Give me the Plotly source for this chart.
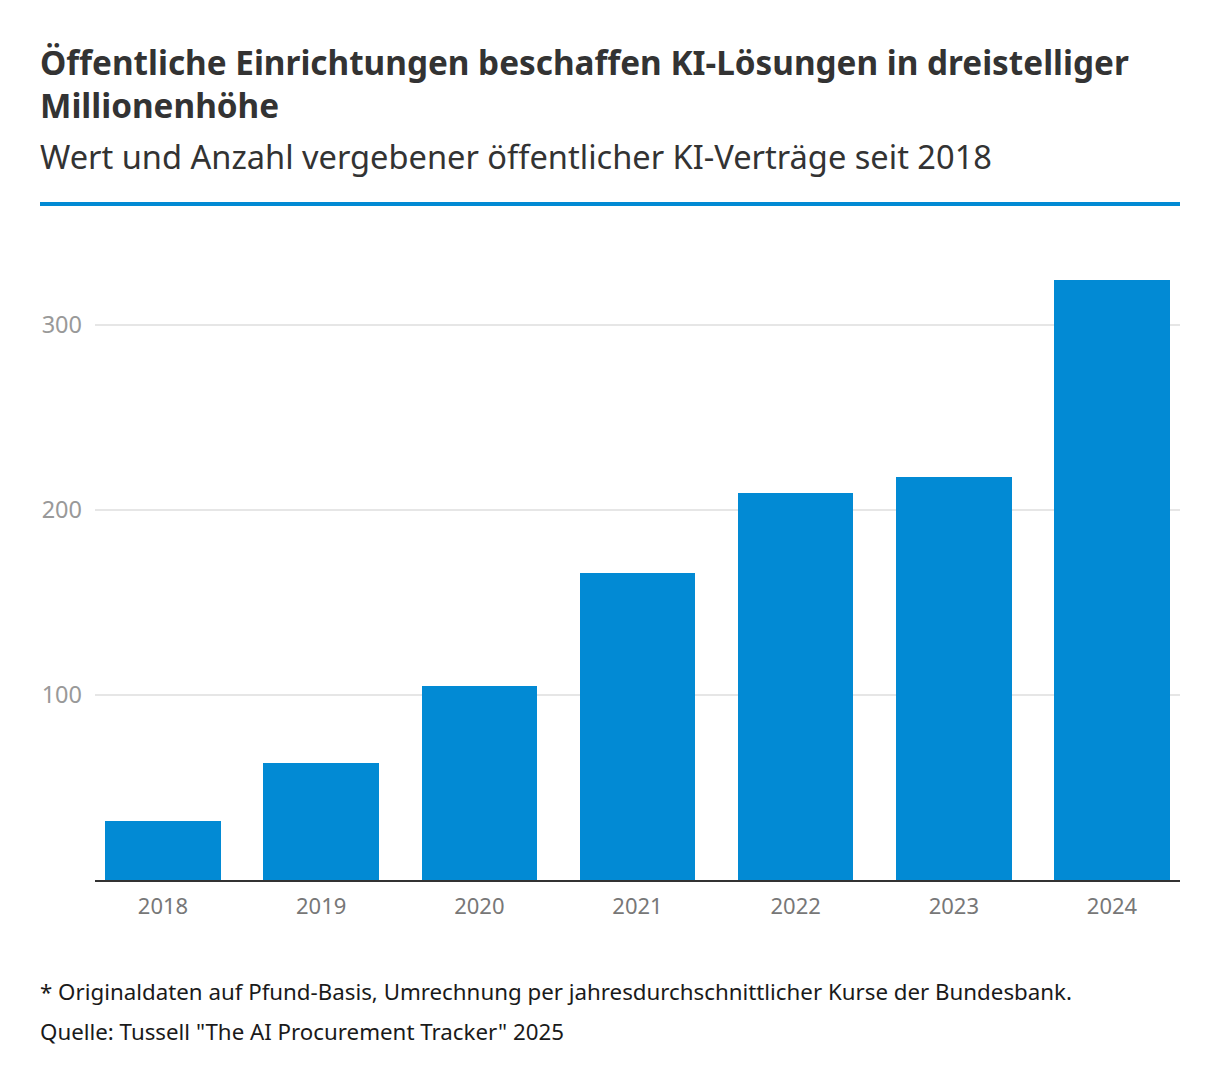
import plotly.graph_objects as go

years = ["2018", "2019", "2020", "2021", "2022", "2023", "2024"]
values = [32, 63, 105, 166, 209, 218, 324]
y_ticks = [100, 200, 300]

title_l1 = "Öffentliche Einrichtungen beschaffen KI-Lösungen in dreistelliger"
title_l2 = "Millionenhöhe"
subtitle = "Wert und Anzahl vergebener öffentlicher KI-Verträge seit 2018"
note = "* Originaldaten auf Pfund-Basis, Umrechnung per jahresdurchschnittlicher Kurse der Bundesbank."
source = "Quelle: Tussell \"The AI Procurement Tracker\" 2025"

OFF = 8  # page body margin
W, H = 1220 - 2 * OFF, 1088 - 2 * OFF
ML, MR = 95 - OFF, 1220 - 1180 - OFF
MT, MB = 260 - OFF, 1088 - 880 - OFF
PW = W - ML - MR
PH = H - MT - MB

def px(x):
    return (x - OFF - ML) / PW

def py(y):
    return (H - MB - (y - OFF)) / PH

FONT = "Noto Sans"
BLUE = "#028ad4"

fig = go.Figure()
fig.add_trace(go.Bar(
    x=list(range(len(years))), y=values, width=0.73,
    marker=dict(color=BLUE, line=dict(width=0)),
    hoverinfo="skip",
))

fig.update_layout(
    width=W, height=H,
    margin=dict(l=ML, r=MR, t=MT, b=MB, pad=0),
    paper_bgcolor="white", plot_bgcolor="white",
    showlegend=False,
    font=dict(family=FONT),
    xaxis=dict(
        range=[-0.43, 6.43], tickmode="array",
        tickvals=list(range(len(years))), ticktext=years,
        showgrid=False, zeroline=False,
        showline=True, linecolor="#333333", linewidth=2,
        ticks="", tickfont=dict(size=22, color="#777777", family=FONT),
        ticklabelstandoff=6, fixedrange=True,
    ),
    yaxis=dict(
        range=[0, 335], tickmode="array", tickvals=y_ticks,
        ticktext=[str(v) for v in y_ticks],
        showgrid=True, gridcolor="#e6e6e6", gridwidth=1.5,
        zeroline=False, showline=False, ticks="",
        tickfont=dict(size=23.5, color="#999999", family=FONT),
        ticklabelstandoff=12, fixedrange=True,
    ),
    bargap=0,
)

ann = [
    dict(text="<b>" + title_l1 + "</b>", x=px(38), y=py(62), size=33.3, color="#333333"),
    dict(text="<b>" + title_l2 + "</b>", x=px(38), y=py(105), size=33.3, color="#333333"),
    dict(text=subtitle, x=px(38), y=py(156), size=32.6, color="#333333"),
    dict(text=note, x=px(38), y=py(991), size=22.3, color="#1a1a1a"),
    dict(text=source, x=px(38), y=py(1031), size=22.3, color="#1a1a1a"),
]
for a in ann:
    fig.add_annotation(
        text=a["text"], x=a["x"], y=a["y"], xref="paper", yref="paper",
        xanchor="left", yanchor="middle", showarrow=False,
        font=dict(family=FONT, size=a["size"], color=a["color"]),
    )

fig.add_shape(
    type="line", xref="paper", yref="paper",
    x0=px(40), x1=px(1180), y0=py(204), y1=py(204),
    line=dict(color=BLUE, width=4),
)

fig.write_html("out.html", config={"displayModeBar": False})
